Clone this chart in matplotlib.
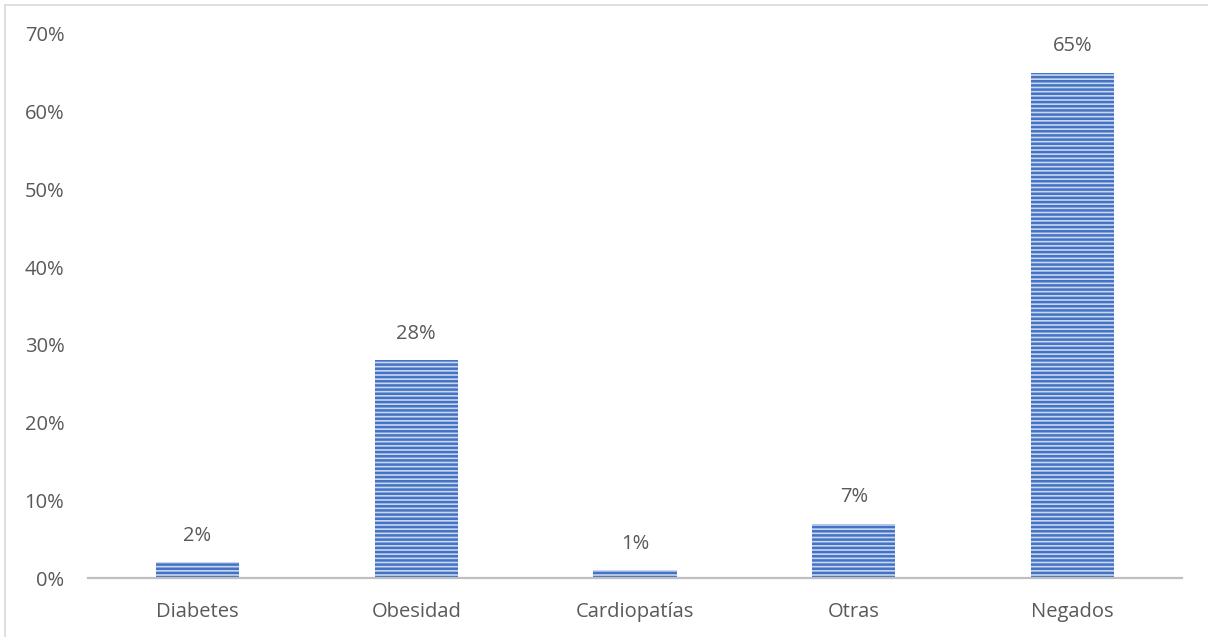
import matplotlib
matplotlib.use("Agg")
import matplotlib.pyplot as plt
from matplotlib.lines import Line2D
from matplotlib.ticker import FuncFormatter

categorias = ["Diabetes", "Obesidad", "Cardiopatías", "Otras", "Negados"]
porcentajes = [2, 28, 1, 7, 65]
ticks_y = [0, 10, 20, 30, 40, 50, 60, 70]

gris = "#595959"
azul = "#4472C4"

plt.rcParams["font.family"] = ["Open Sans", "DejaVu Sans"]
plt.rcParams["hatch.linewidth"] = 1.8

fig = plt.figure(figsize=(12.08, 6.37), dpi=100)
ax = fig.add_axes([88 / 1208, 59 / 637, 1094 / 1208, 544 / 637])

x = range(len(categorias))
barras = ax.bar(x, porcentajes, width=0.38, color="#c9d6ef", edgecolor=azul,
                linewidth=0, hatch="----")

for xi, v in zip(x, porcentajes):
    ax.annotate(f"{v}%", (xi, v), xytext=(0, 19), textcoords="offset points",
                ha="center", va="center", fontsize=14.5, color=gris)

ax.set_xlim(-0.5, 4.5)
ax.set_ylim(0, 70)
ax.set_yticks(ticks_y)
ax.yaxis.set_major_formatter(FuncFormatter(lambda v, p: f"{v:.0f}%"))
ax.set_xticks(list(x))
ax.set_xticklabels(categorias)
ax.tick_params(axis="both", length=0, labelsize=14.5, labelcolor=gris)
ax.tick_params(axis="y", pad=17)
ax.tick_params(axis="x", pad=17)

for lado in ["top", "right", "left"]:
    ax.spines[lado].set_visible(False)
ax.spines["bottom"].set_color("#bfbfbf")
ax.spines["bottom"].set_linewidth(1.6)

# marco del gráfico (solo arriba e izquierda)
fig.add_artist(Line2D([5 / 1208, 1], [1 - 5 / 637, 1 - 5 / 637],
                      transform=fig.transFigure, color="#d9d9d9", lw=1.2))
fig.add_artist(Line2D([5 / 1208, 5 / 1208], [0, 1 - 5 / 637],
                      transform=fig.transFigure, color="#d9d9d9", lw=1.2))

fig.savefig("out.png", dpi=100)
